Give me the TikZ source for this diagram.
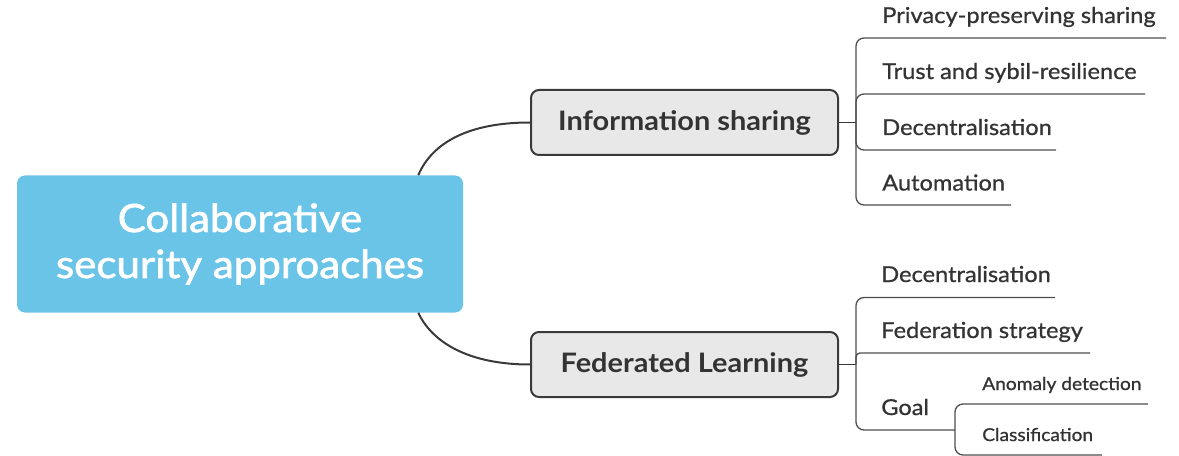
\documentclass[tikz,border=0pt]{standalone}
\usepackage{fontspec}
\setmainfont{Lato}[FakeStretch=1.08]
\newfontfamily\rootfont{Lato}[FakeStretch=1.08, FakeBold=1.6]
\newfontfamily\leaffont{Lato}[FakeStretch=1.08, FakeBold=0.8]
\usetikzlibrary{calc}
\definecolor{rootblue}{HTML}{6AC4E8}
\definecolor{boxgray}{HTML}{E8E8E8}
\definecolor{linedark}{HTML}{3A3A3A}
\definecolor{textdark}{HTML}{333333}
\tikzset{
  rootbox/.style={draw=none, fill=rootblue, rounded corners=6pt, minimum width=334.5pt, minimum height=102.75pt, text=white, align=center, font=\rootfont\fontsize{29.2}{34.5}\selectfont, inner sep=0pt},
  branchbox/.style={draw=linedark, line width=1.5pt, fill=boxgray, rounded corners=6pt, minimum width=230.25pt, minimum height=48.75pt, text=textdark, font=\fontsize{20.1}{24}\selectfont\bfseries, inner sep=0pt},
  conn/.style={draw=linedark, line width=1.5pt},
  leafline/.style={draw=linedark!90, line width=1pt, rounded corners=6pt},
  leaf/.style={anchor=base west, text=textdark, font=\leaffont\fontsize{16.4}{19}\selectfont, inner sep=0pt},
  subleaf/.style={anchor=base west, text=textdark, font=\leaffont\fontsize{13.3}{16}\selectfont, inner sep=0pt}
}
\begin{document}
\begin{tikzpicture}[x=0.75pt, y=-0.75pt]
\useasboundingbox (0,0) rectangle (1179,456);
% root
\node[rootbox] (root) at (240,244) {Collaborative\\security approaches};
% branches
\node[branchbox] (info) at (684.5,122.5) {Information sharing};
\node[branchbox] (fed) at (684.5,364.5) {Federated Learning};
\draw[conn] ($(root.north east)+(-45,0)$) .. controls (432,143) and (468,122.5) .. (info.west);
\draw[conn] ($(root.south east)+(-45,0)$) .. controls (432,342) and (468,364.5) .. (fed.west);
% info sharing subtree
\coordinate (jI) at (856,122.5);
\draw[conn, line width=1pt] (info.east) -- (jI);
\node[leaf] (i1) at (882,23) {Privacy-preserving sharing};
\node[leaf] (i2) at (882,79) {Trust and sybil-resilience};
\node[leaf] (i3) at (882,135) {Decentralisation};
\node[leaf] (i4) at (882,190.5) {Automation};
\coordinate (i1e) at (1166,38);
\coordinate (i2e) at (1145,94);
\coordinate (i3e) at (1056,150);
\coordinate (i4e) at (1011,205);
\draw[leafline] (jI) |- (i1e);
\draw[leafline] (jI) |- (i2e);
\draw[leafline] (jI) |- (i3e);
\draw[leafline] (jI) |- (i4e);
% federated learning subtree
\coordinate (jF) at (856,364.5);
\draw[conn, line width=1pt] (fed.east) -- (jF);
\node[leaf] (f1) at (881,282) {Decentralisation};
\node[leaf] (f2) at (881,338) {Federation strategy};
\node[leaf] (f3) at (881,415) {Goal};
\coordinate (f1e) at (1055,297.5);
\coordinate (f2e) at (1090,353);
\coordinate (f3e) at (955,430);
\draw[leafline] (jF) |- (f1e);
\draw[leafline, rounded corners=3pt] (jF) |- (f2e);
\draw[leafline] (jF) |- (f3e);
% goal subtree
\node[subleaf] (g1) at (982,390) {Anomaly detection};
\node[subleaf] (g2) at (982,441) {Classification};
\coordinate (g1e) at (1148,404);
\coordinate (g2e) at (1102,455);
\draw[leafline] (f3e) |- (g1e);
\draw[leafline] (f3e) |- (g2e);
\end{tikzpicture}
\end{document}
